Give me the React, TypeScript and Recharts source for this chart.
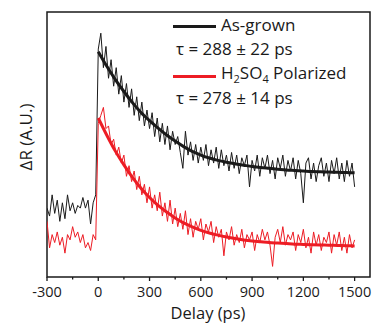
import React from 'react';
import { LineChart, Line, XAxis, YAxis, ReferenceArea } from 'recharts';

// measurement grid for the raw traces (every 15 ps)
const rawDelays = Array.from({ length: 121 }, (_, i) => -300 + i * 15);

const asGrownRaw = [
  26, 23, 31, 24, 29, 21, 28, 22, 31, 25, 28, 24, 27, 26, 30, 26, 29, 20, 28, 31,
  86, 92, 79, 87, 75, 82, 72, 79, 69, 76,
  66, 73, 64, 71, 61, 68, 59, 66, 57, 63,
  56, 62, 53, 60, 51, 58, 50, 57, 48, 55,
  50, 53, 47, 41, 55, 46, 51, 44, 50, 43,
  49, 44, 50, 42, 48, 43, 49, 41, 48, 42,
  46, 40, 47, 41, 46, 39, 45, 42, 46, 34,
  44, 40, 46, 38, 45, 41, 46, 39, 44, 37,
  45, 41, 46, 38, 44, 40, 45, 37, 44, 39,
  28, 43, 45, 37, 43, 36, 42, 45, 38, 43,
  36, 44, 39, 45, 37, 43, 36, 44, 38, 43,
  34,
];

const polarizedRaw = [
  21, 11, 16, 13, 17, 12, 15, 9, 16, 14, 19, 15, 17, 13, 16, 11, 13, 10, 16, 14,
  58, 61, 64, 56, 57, 50, 52, 46, 49, 43,
  46, 38, 42, 36, 40, 33, 38, 31, 35, 28,
  34, 26, 31, 25, 32, 23, 28, 21, 29, 20,
  26, 19, 24, 18, 25, 16, 22, 15, 21, 18,
  22, 14, 20, 17, 21, 13, 19, 15, 18, 8,
  17, 14, 19, 12, 16, 13, 18, 11, 16, 14,
  17, 10, 16, 13, 18, 14, 17, 12, 4, 15,
  18, 13, 19, 12, 16, 14, 17, 10, 16, 13,
  18, 11, 15, 9, 17, 12, 16, 10, 15, 13,
  17, 9, 16, 12, 17, 10, 15, 9, 16, 11,
  14,
];

const fitDelays = [
  0, 50, 100, 150, 200, 250, 300, 350, 400, 450, 500, 550, 600, 650, 700, 750,
  800, 850, 900, 950, 1000, 1050, 1100, 1150, 1200, 1250, 1300, 1350, 1400, 1450, 1500,
];
const asGrownFit = [
  85, 79.5, 74.5, 70, 65.8, 62.1, 59, 56.2, 53.6, 51.3, 49.2, 47.4, 46, 44.9, 44, 43.3,
  42.7, 42.2, 41.7, 41.3, 41, 40.7, 40.4, 40.2, 40, 39.8, 39.7, 39.6, 39.5, 39.4, 39.3,
];
const polarizedFit = [
  60, 53.5, 47.5, 42.3, 37.6, 33.5, 30, 27, 24.5, 22.3, 20.4, 18.9, 17.6, 16.6, 15.8, 15.1,
  14.5, 14, 13.6, 13.3, 13, 12.8, 12.6, 12.4, 12.3, 12.2, 12.1, 12, 11.9, 11.8, 11.7,
];

const xTicks = [-300, -150, 0, 150, 300, 450, 600, 750, 900, 1050, 1200, 1350, 1500];

const rawData = rawDelays.map((t, i) => ({ t, asGrown: asGrownRaw[i], polarized: polarizedRaw[i] }));
const fitData = fitDelays.map((t, i) => ({ t, asGrown: asGrownFit[i], polarized: polarizedFit[i] }));

const INK = '#1a1a1a';
const RED = '#ed1c24';
const FONT = '"Open Sans", sans-serif';

const DelayTick = ({ x, y, payload }: any) => {
  const major = payload.value % 300 === 0;
  return (
    <g>
      <line x1={x} x2={x} y1={y} y2={y + (major ? 4 : 2.5)} stroke={INK} strokeWidth={1.3} />
      {major && (
        <text x={x} y={y + 19.5} textAnchor="middle" fontSize={14.5} fontFamily={FONT} fill={INK}>
          {payload.value}
        </text>
      )}
    </g>
  );
};

const textStyle: React.CSSProperties = {
  position: 'absolute',
  fontFamily: FONT,
  fontSize: 17,
  lineHeight: '20px',
  color: INK,
  whiteSpace: 'nowrap',
};

const sub: React.CSSProperties = { fontSize: 11, verticalAlign: -4, lineHeight: 0 };

export default function App() {
  return (
    <div style={{ position: 'absolute', left: 0, top: 0, width: 374, height: 324, background: '#fff', overflow: 'hidden' }}>
      <LineChart width={374} height={324} margin={{ top: 12, right: 4, bottom: 17, left: 47 }}>
        <XAxis
          xAxisId="b"
          type="number"
          dataKey="t"
          domain={[-300, 1590]}
          ticks={xTicks}
          interval={0}
          allowDataOverflow
          height={30}
          tickSize={0}
          tickMargin={0}
          tickLine={false}
          tick={<DelayTick />}
          axisLine={false}
        />
        <YAxis yAxisId="l" type="number" domain={[0, 100]} hide />
        <ReferenceArea
          xAxisId="b"
          yAxisId="l"
          x1={-300}
          x2={1590}
          y1={0}
          y2={100}
          fill="none"
          stroke={INK}
          strokeWidth={1.5}
          ifOverflow="visible"
        />
        <Line xAxisId="b" yAxisId="l" data={rawData} dataKey="asGrown" stroke={INK} strokeWidth={1} dot={false} type="linear" isAnimationActive={false} />
        <Line xAxisId="b" yAxisId="l" data={rawData} dataKey="polarized" stroke={RED} strokeWidth={1} dot={false} type="linear" isAnimationActive={false} />
        <Line xAxisId="b" yAxisId="l" data={fitData} dataKey="asGrown" stroke={INK} strokeWidth={3} dot={false} type="monotone" isAnimationActive={false} />
        <Line xAxisId="b" yAxisId="l" data={fitData} dataKey="polarized" stroke={RED} strokeWidth={3} dot={false} type="monotone" isAnimationActive={false} />
      </LineChart>

      {/* legend */}
      <div style={{ position: 'absolute', left: 173, top: 24.5, width: 43, height: 3, background: INK }} />
      <div style={{ ...textStyle, left: 221, top: 15 }}>As-grown</div>
      <div style={{ ...textStyle, left: 176, top: 39 }}>τ = 288 ± 22 ps</div>
      <div style={{ position: 'absolute', left: 173, top: 74.5, width: 43, height: 3, background: RED }} />
      <div style={{ ...textStyle, left: 221, top: 63 }}>
        H<sub style={sub}>2</sub>SO<sub style={sub}>4</sub> Polarized
      </div>
      <div style={{ ...textStyle, left: 176, top: 88 }}>τ = 278 ± 14 ps</div>

      {/* axis titles */}
      <div
        style={{
          ...textStyle,
          lineHeight: '17px',
          left: 25,
          top: 137,
          transform: 'translate(-50%, -50%) rotate(-90deg)',
        }}
      >
        ΔR (A.U.)
      </div>
      <div
        style={{
          ...textStyle,
          fontSize: 16.5,
          lineHeight: '10px',
          left: 0,
          width: 374,
          textAlign: 'center',
          paddingLeft: 42,
          boxSizing: 'border-box',
          top: 307.5,
        }}
      >
        Delay (ps)
      </div>
    </div>
  );
}
